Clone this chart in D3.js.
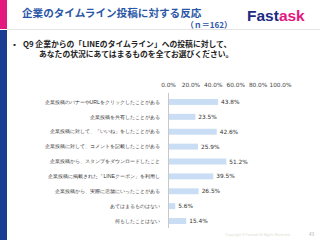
<!DOCTYPE html>
<html>
<head>
<meta charset="utf-8">
<script src="https://cdn.jsdelivr.net/npm/d3@7"></script>
<style>
  body { margin: 0; background: #fff; }
  svg { display: block; font-family: "Noto Sans CJK JP", "Noto Sans", sans-serif; }
</style>
</head>
<body>
<div id="chart"></div>
<script>
const categories = [
  "企業投稿のバナーやURLをクリックしたことがある",
  "企業投稿を共有したことがある",
  "企業投稿に対して、「いいね」をしたことがある",
  "企業投稿に対して、コメントを記載したことがある",
  "企業投稿から、スタンプをダウンロードしたこと",
  "企業投稿に掲載された「LINEクーポン」を利用し",
  "企業投稿から、実際に店舗にいったことがある",
  "あてはまるものはない",
  "何もしたことはない"
]
const values = [43.8, 23.5, 42.6, 25.9, 51.2, 39.5, 26.5, 5.6, 15.4]
const tickValues = [0, 20, 40, 60, 80, 100]

const width = 320
const height = 240

const svg = d3.select("#chart").append("svg")
  .attr("width", width)
  .attr("height", height)

// 左の帯
svg.append("rect").attr("x", 0).attr("y", 0).attr("width", 7).attr("height", 29).attr("fill", "#e2187f")
svg.append("rect").attr("x", 0).attr("y", 30).attr("width", 7).attr("height", 210).attr("fill", "#1b3c93")

// ヘッダー下の線
svg.append("line")
  .attr("x1", 7).attr("x2", width).attr("y1", 29.5).attr("y2", 29.5)
  .attr("stroke", "#e4e4e4").attr("stroke-width", 1)

// タイトル
svg.append("text")
  .attr("x", 22).attr("y", 17)
  .attr("font-size", 10.6).attr("font-weight", "bold")
  .attr("fill", "#2a56a6")
  .text("企業のタイムライン投稿に対する反応")

svg.append("text")
  .attr("x", 232).attr("y", 28)
  .attr("text-anchor", "end")
  .attr("font-size", 8).attr("font-weight", "bold")
  .attr("fill", "#2a56a6")
  .text("（ｎ＝162）")

// ロゴ
let logo = svg.append("text")
  .attr("x", 247).attr("y", 21)
  .attr("font-family", "Liberation Sans, sans-serif")
  .attr("font-size", 15.5).attr("font-weight", "bold")
logo.append("tspan").attr("fill", "#1d2b82").text("Fast")
logo.append("tspan").attr("fill", "#e2187f").text("ask")

// 設問
svg.append("text")
  .attr("x", 11).attr("y", 47)
  .attr("font-size", 7).attr("font-weight", "bold").attr("fill", "#222")
  .text("▪")
svg.append("text")
  .attr("x", 23).attr("y", 47)
  .attr("font-size", 7.8).attr("font-weight", "bold").attr("fill", "#222")
  .text("Q9 企業からの「LINEのタイムライン」への投稿に対して、")
svg.append("text")
  .attr("x", 39).attr("y", 57)
  .attr("font-size", 7.8).attr("font-weight", "bold").attr("fill", "#222")
  .text("あなたの状況にあてはまるものを全てお選びください。")

// スケール
let xScale = d3.scaleLinear().domain([0, 100]).range([168, 280])
let yScale = d3.scaleBand()
  .domain(categories)
  .range([96, 227])
  .paddingInner(0.6)
  .paddingOuter(0.2)

// 上の目盛
let xAxis = svg.append("g")
  .attr("transform", "translate(0,87)")
  .call(d3.axisTop(xScale).tickValues(tickValues).tickSize(0).tickPadding(0)
    .tickFormat(d => d.toFixed(1) + "%"))
xAxis.select(".domain").remove()
xAxis.selectAll("text")
  .attr("font-size", 5.8).attr("fill", "#444")
  .attr("font-family", "DejaVu Sans, sans-serif")

// 左の項目
let yAxis = svg.append("g")
  .attr("transform", "translate(168,0)")
  .call(d3.axisLeft(yScale).tickSize(0).tickPadding(8))
yAxis.select(".domain").attr("stroke", "#c8c8c8").attr("d", "M0.5,93V228")
yAxis.selectAll("text")
  .attr("font-size", 5.2).attr("fill", "#333")

// 棒
svg.append("g").selectAll("rect")
  .data(values)
  .join("rect")
  .attr("x", xScale(0) + 1)
  .attr("y", (d, i) => yScale(categories[i]))
  .attr("width", d => xScale(d) - xScale(0))
  .attr("height", yScale.bandwidth())
  .attr("fill", "#c9ddf4")

svg.append("g").selectAll("text")
  .data(values)
  .join("text")
  .attr("x", d => xScale(d) + 4)
  .attr("y", (d, i) => yScale(categories[i]) + yScale.bandwidth() / 2)
  .attr("dy", "0.35em")
  .attr("font-size", 5.8).attr("fill", "#333")
  .attr("font-family", "DejaVu Sans, sans-serif")
  .text(d => d.toFixed(1) + "%")

// フッター
svg.append("text")
  .attr("x", 258).attr("y", 236)
  .attr("text-anchor", "middle")
  .attr("font-size", 3.5).attr("fill", "#e0dcd0")
  .text("Copyright © Fastask All Rights Reserved.")
svg.append("text")
  .attr("x", 314).attr("y", 236)
  .attr("text-anchor", "end")
  .attr("font-size", 4.5).attr("fill", "#aaa")
  .text("43")
</script>
</body>
</html>
